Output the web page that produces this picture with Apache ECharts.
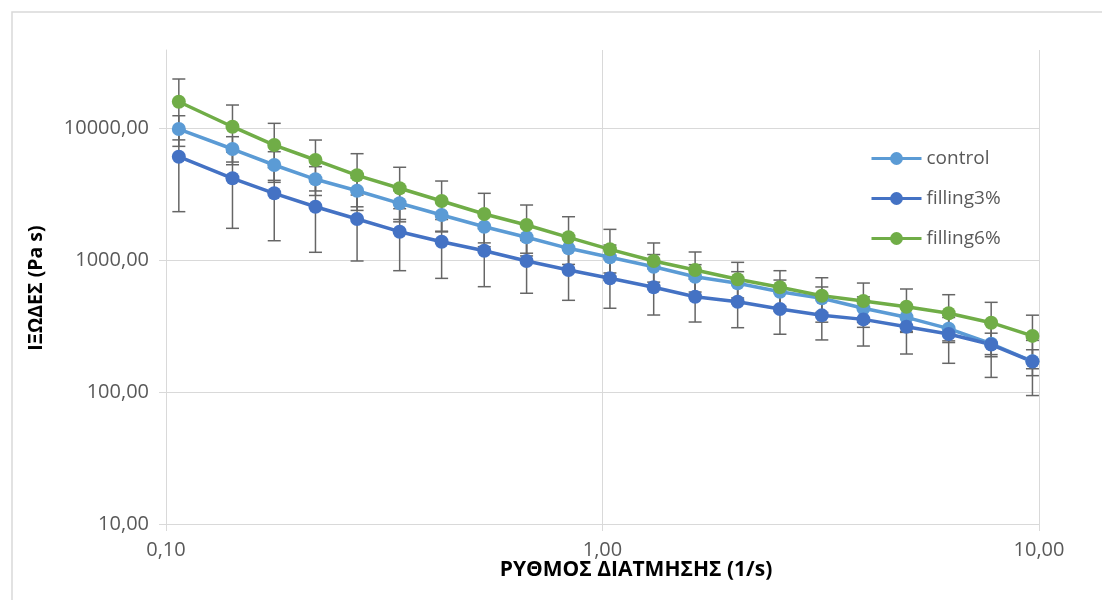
<!DOCTYPE html>
<html>
<head>
<meta charset="utf-8">
<script src="https://cdn.jsdelivr.net/npm/echarts@6/dist/echarts.min.js"></script>
<style>
  html, body { margin: 0; padding: 0; background: #ffffff; }
  #chart { width: 1102px; height: 600px; }
</style>
</head>
<body>
<div id="chart"></div>
<script>
// Shear rate (1/s) of each measurement point
const shearRate = [0.107, 0.142, 0.177, 0.220, 0.274, 0.343, 0.428, 0.536, 0.670, 0.836,
                   1.04, 1.31, 1.63, 2.04, 2.55, 3.18, 3.96, 4.97, 6.21, 7.77, 9.66];

// Mean viscosity (Pa s) and standard deviation per sample
const control      = [9827, 6933, 5245, 4088, 3350, 2689, 2193, 1788, 1486, 1226,
                      1048, 890, 747, 666, 575, 513, 431, 368, 302, 232, 171];
const controlErr   = [2565, 1662, 1369, 1006, 820, 660, 540, 440, 360, 300,
                      250, 210, 175, 150, 130, 112, 95, 80, 65, 47, 38];

const filling3     = [6061, 4158, 3201, 2534, 2045, 1639, 1376, 1176, 983, 840,
                      727, 621, 527, 483, 426, 381, 355, 312, 275, 229, 170];
const filling3Err  = [3737, 2420, 1801, 1390, 1062, 809, 650, 548, 423, 345,
                      296, 238, 188, 176, 152, 133, 132, 118, 110, 100, 76];

const filling6     = [15820, 10230, 7432, 5722, 4383, 3494, 2799, 2231, 1842, 1486,
                      1205, 983, 840, 714, 621, 536, 489, 443, 395, 335, 266];
const filling6Err  = [7690, 4706, 3419, 2386, 2007, 1548, 1167, 970, 768, 642,
                      502, 363, 310, 246, 209, 198, 180, 160, 151, 143, 116];

const seriesNames  = ['control', 'filling3%', 'filling6%'];
const seriesColors = ['#5B9BD5', '#4472C4', '#70AD47'];
const xTitle = 'ΡΥΘΜΟΣ ΔΙΑΤΜΗΣΗΣ (1/s)';
const yTitle = 'ΙΞΩΔΕΣ (Pa s)';

const FONT = '"Open Sans", "Noto Sans", sans-serif';
const GRID = '#d9d9d9';
const LABEL = '#595959';

function decimalComma(v) {
  return Number(v).toFixed(2).replace('.', ',');
}

// Vertical ±SD bars with caps, placed through the axes' own scales
function errorBars(name, xs, mean, err) {
  return {
    type: 'custom',
    name: name,
    z: 1,
    silent: true,
    data: xs.map((x, i) => [x, mean[i] - err[i], mean[i] + err[i]]),
    encode: { x: 0, y: [1, 2] },
    renderItem: function (params, api) {
      const lo = api.coord([api.value(0), api.value(1)]);
      const hi = api.coord([api.value(0), api.value(2)]);
      const half = 6.5;
      const style = { stroke: '#666666', lineWidth: 1.5 };
      return {
        type: 'group',
        children: [
          { type: 'line', shape: { x1: lo[0], y1: lo[1], x2: hi[0], y2: hi[1] }, style: style },
          { type: 'line', shape: { x1: hi[0] - half, y1: hi[1], x2: hi[0] + half, y2: hi[1] }, style: style },
          { type: 'line', shape: { x1: lo[0] - half, y1: lo[1], x2: lo[0] + half, y2: lo[1] }, style: style }
        ]
      };
    }
  };
}

function lineSeries(name, color, values) {
  return {
    name: name,
    type: 'line',
    z: 3,
    data: shearRate.map((x, i) => [x, values[i]]),
    symbol: 'circle',
    symbolSize: 14,
    showSymbol: true,
    lineStyle: { width: 3.5, color: color },
    itemStyle: { color: color },
    emphasis: { disabled: true }
  };
}

const chart = echarts.init(document.getElementById('chart'), null, { renderer: 'canvas' });

chart.setOption({
  animation: false,
  backgroundColor: '#ffffff',
  grid: { left: 166, right: 63, top: 50, bottom: 76, containLabel: false, outerBoundsMode: 'none' },
  legend: {
    orient: 'vertical',
    left: 870,
    top: 149,
    padding: 0,
    itemWidth: 50,
    itemHeight: 16,
    itemGap: 21,
    data: seriesNames,
    lineStyle: { width: 3 },
    textStyle: { color: LABEL, fontSize: 19, fontFamily: FONT, lineHeight: 17 }
  },
  xAxis: {
    type: 'log',
    logBase: 10,
    min: 0.1,
    max: 10,
    axisLine: { show: true, onZero: false, lineStyle: { color: GRID, width: 1 } },
    axisTick: { show: true, length: 7, lineStyle: { color: GRID, width: 1 } },
    axisLabel: { color: LABEL, fontSize: 20, fontFamily: FONT, margin: 16, formatter: decimalComma },
    splitLine: { show: true, lineStyle: { color: GRID, width: 1 } },
    minorTick: { show: false },
    minorSplitLine: { show: false }
  },
  yAxis: {
    type: 'log',
    logBase: 10,
    min: 10,
    max: 39000,
    axisLine: { show: true, lineStyle: { color: GRID, width: 1 } },
    axisTick: { show: true, length: 7, lineStyle: { color: GRID, width: 1 } },
    axisLabel: { color: LABEL, fontSize: 20, fontFamily: FONT, margin: 17, formatter: decimalComma, showMaxLabel: false },
    splitLine: { show: true, showMaxLine: false, lineStyle: { color: GRID, width: 1 } },
    minorTick: { show: false },
    minorSplitLine: { show: false }
  },
  graphic: [
    {
      type: 'rect', silent: true, z: -10,
      shape: { x: 12, y: 12, width: 1300, height: 800 },
      style: { fill: 'none', stroke: GRID, lineWidth: 1.5 }
    },
    {
      type: 'text', silent: true, x: 636, y: 570,
      style: { text: xTitle, fontFamily: FONT, fontSize: 21, fontWeight: 'bold', fill: '#000000', align: 'center', verticalAlign: 'middle' }
    },
    {
      type: 'text', silent: true, x: 36, y: 288, rotation: Math.PI / 2,
      style: { text: yTitle, fontFamily: FONT, fontSize: 19.5, fontWeight: 'bold', fill: '#000000', align: 'center', verticalAlign: 'middle' }
    }
  ],
  series: [
    errorBars('control SD', shearRate, control, controlErr),
    errorBars('filling3% SD', shearRate, filling3, filling3Err),
    errorBars('filling6% SD', shearRate, filling6, filling6Err),
    lineSeries(seriesNames[0], seriesColors[0], control),
    lineSeries(seriesNames[1], seriesColors[1], filling3),
    lineSeries(seriesNames[2], seriesColors[2], filling6)
  ]
});
</script>
</body>
</html>
